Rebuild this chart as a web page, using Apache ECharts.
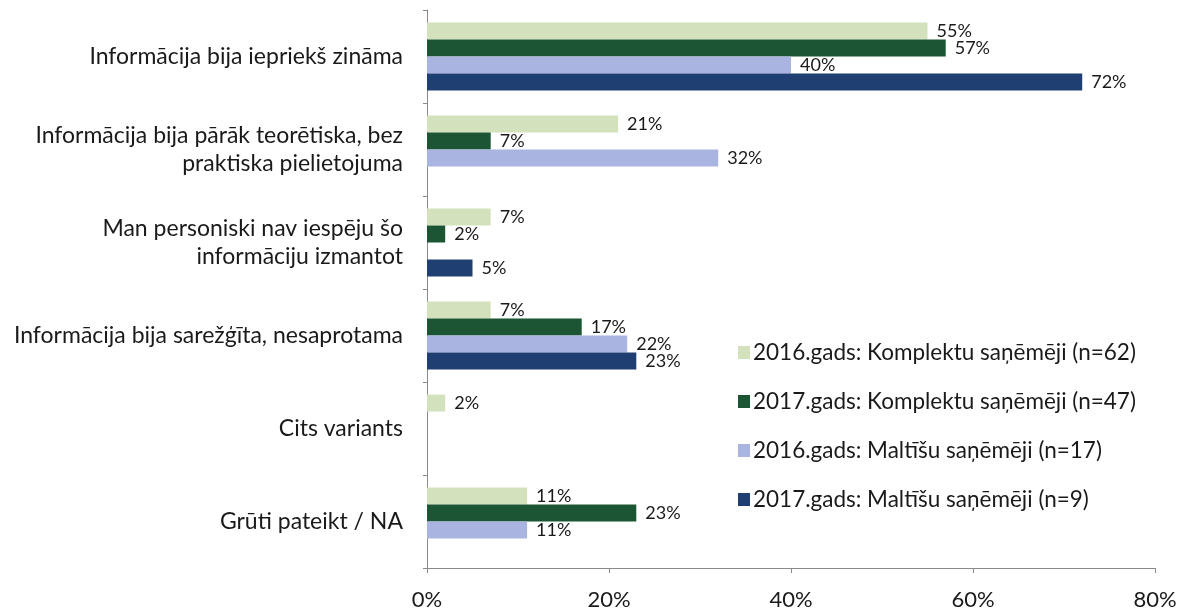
<!DOCTYPE html>
<html>
<head>
<meta charset="utf-8">
<script src="https://cdn.jsdelivr.net/npm/echarts@6/dist/echarts.min.js"></script>
<style>
  html, body { margin: 0; padding: 0; background: #ffffff; }
  #chart { width: 1192px; height: 611px; }
</style>
</head>
<body>
<div id="chart"></div>
<script>
// Survey answers (top to bottom)
const categories = [
  'Informācija bija iepriekš zināma',
  'Informācija bija pārāk teorētiska, bez\npraktiska pielietojuma',
  'Man personiski nav iespēju šo\ninformāciju izmantot',
  'Informācija bija sarežģīta, nesaprotama',
  'Cits variants',
  'Grūti pateikt / NA'
];

const seriesNames = [
  '2016.gads: Komplektu saņēmēji (n=62)',
  '2017.gads: Komplektu saņēmēji (n=47)',
  '2016.gads: Maltīšu saņēmēji (n=17)',
  '2017.gads: Maltīšu saņēmēji (n=9)'
];

// Shares in percent, same order as categories; null = no answer
const komplekti2016 = [55, 21, 7, 7, 2, 11];
const komplekti2017 = [57, 7, 2, 17, null, 23];
const maltites2016  = [40, 32, null, 22, null, 11];
const maltites2017  = [72, null, 5, 23, null, null];

const xTicks = [0, 20, 40, 60, 80];

const colors = ['#d4e1bd', '#1c5533', '#a9b4e1', '#1f3e71'];
const values = [komplekti2016, komplekti2017, maltites2016, maltites2017];

const FONT = 'Lato, "Open Sans", sans-serif';

const chart = echarts.init(document.getElementById('chart'), null, { renderer: 'canvas' });

chart.setOption({
  animation: false,
  backgroundColor: '#ffffff',
  textStyle: { fontFamily: FONT },
  grid: { left: 427, right: 37, top: 10, bottom: 43, containLabel: false },
  legend: {
    orient: 'vertical',
    left: 733,
    top: 336,
    itemGap: 26,
    itemWidth: 12,
    itemHeight: 13,
    icon: 'rect',
    data: seriesNames,
    textStyle: { fontFamily: FONT, fontSize: 22.5, color: '#1a1a1a', padding: [0, 0, 0, -2] }
  },
  xAxis: {
    type: 'value',
    min: xTicks[0],
    max: xTicks[xTicks.length - 1],
    interval: 20,
    axisLine: { show: true, lineStyle: { color: '#8a8a8a', width: 1 } },
    axisTick: { show: true, length: 5, lineStyle: { color: '#8a8a8a' } },
    splitLine: { show: false },
    axisLabel: {
      formatter: v => v + '%',
      fontFamily: FONT,
      fontSize: 22,
      color: '#1a1a1a',
      margin: 21
    }
  },
  yAxis: {
    type: 'category',
    inverse: true,
    data: categories,
    axisLine: { show: true, lineStyle: { color: '#8a8a8a', width: 1 } },
    axisTick: { show: true, length: 4, lineStyle: { color: '#8a8a8a' } },
    axisLabel: {
      fontFamily: FONT,
      fontSize: 23,
      color: '#1a1a1a',
      margin: 24,
      lineHeight: 28,
      align: 'right'
    }
  },
  series: values.map((data, i) => ({
    name: seriesNames[i],
    type: 'bar',
    data: data,
    barGap: '0%',
    barCategoryGap: '27%',
    itemStyle: { color: colors[i] },
    label: {
      show: true,
      position: 'right',
      distance: 9,
      formatter: p => p.value + '%',
      fontFamily: FONT,
      fontSize: 18,
      color: '#1a1a1a'
    }
  }))
});
</script>
</body>
</html>
